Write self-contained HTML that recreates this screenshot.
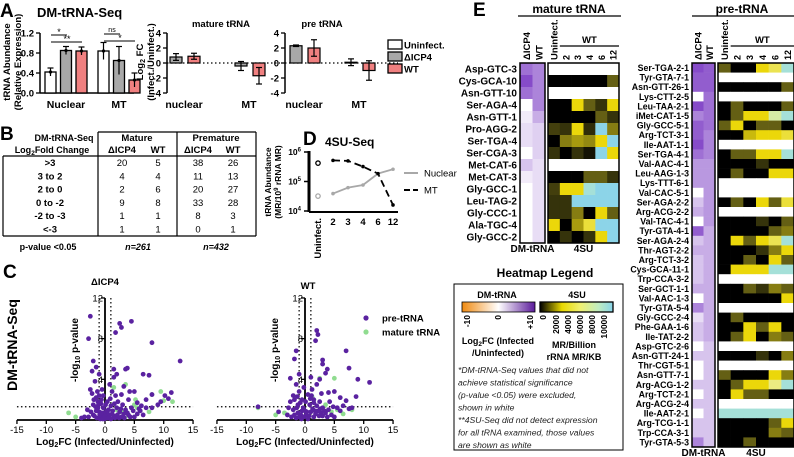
<!DOCTYPE html>
<html><head><meta charset="utf-8"><style>
html,body{margin:0;padding:0;background:#fff;}
svg{display:block;font-family:"Liberation Sans",Arial,sans-serif;}
.b{font-weight:bold;}
</style></head><body>
<svg id="fig" width="794" height="457" viewBox="0 0 794 457" xmlns="http://www.w3.org/2000/svg">
<defs>
<linearGradient id="gDM" x1="0" x2="1"><stop offset="0" stop-color="#f08a10"/><stop offset="0.5" stop-color="#ffffff"/><stop offset="1" stop-color="#5a1a9a"/></linearGradient>
<linearGradient id="g4" x1="0" x2="1"><stop offset="0" stop-color="#000"/><stop offset="0.3" stop-color="#e8d800"/><stop offset="0.55" stop-color="#f0f070"/><stop offset="0.8" stop-color="#c0ecc0"/><stop offset="1" stop-color="#88d4ea"/></linearGradient>
</defs>
<g>
<text x="0" y="17" font-size="19" class="b">A</text>
<text x="37" y="17" font-size="13" class="b">DM-tRNA-Seq</text>
<text transform="translate(10,62) rotate(-90)" text-anchor="middle" font-size="9.5" class="b">tRNA Abundance</text>
<text transform="translate(21,62) rotate(-90)" text-anchor="middle" font-size="9.5" class="b">(Relative Expression)</text>
<text transform="translate(143,62) rotate(-90)" text-anchor="middle" font-size="9.5" class="b">Log<tspan font-size="7" dy="2">2</tspan><tspan dy="-2"> FC</tspan></text>
<text transform="translate(154,62) rotate(-90)" text-anchor="middle" font-size="9.5" class="b">(Infect./Uninfect.)</text>
<text x="221" y="27" text-anchor="middle" font-size="9.5" class="b">mature tRNA</text>
<text x="322" y="27" text-anchor="middle" font-size="9.5" class="b">pre tRNA</text>
<g id="a1"></g>
<g id="a2"></g>
<g id="a3"></g>
<g font-size="9.5" class="b">
<rect x="388" y="40" width="14" height="9" fill="#fff" stroke="#000" stroke-width="1.3"/><text x="404" y="48.5">Uninfect.</text>
<rect x="388" y="52" width="14" height="9" fill="#a8a8a8" stroke="#000" stroke-width="1.3"/><text x="404" y="60.5">ΔICP4</text>
<rect x="388" y="64" width="14" height="9" fill="#f08080" stroke="#000" stroke-width="1.3"/><text x="404" y="72.5">WT</text>
</g>
</g>
<g font-size="9.5">
<text x="0" y="140" font-size="19" class="b">B</text>
<text x="64" y="141" text-anchor="middle" class="b" font-size="9">DM-tRNA-Seq</text>
<text x="52" y="153" text-anchor="middle" class="b" font-size="9">Log<tspan font-size="6.5" dy="2">2</tspan><tspan dy="-2">Fold Change</tspan></text>
<g stroke="#000" stroke-width="1.2" fill="none">
<line x1="98" y1="132" x2="256" y2="132"/>
<line x1="3" y1="156" x2="256" y2="156"/>
<line x1="3" y1="236" x2="256" y2="236"/>
<line x1="3" y1="156" x2="3" y2="236"/>
<line x1="256" y1="132" x2="256" y2="236"/>
<line x1="98" y1="132" x2="98" y2="236"/>
<line x1="177" y1="132" x2="177" y2="236"/>
</g>
<g class="b" text-anchor="middle">
<text x="137" y="141">Mature</text><text x="216" y="141">Premature</text>
<text x="122" y="153">ΔICP4</text><text x="158" y="153">WT</text>
<text x="198" y="153">ΔICP4</text><text x="233" y="153">WT</text>
</g>
<g id="btable"></g>
<text x="48" y="250" text-anchor="middle" class="b" font-size="9">p-value &lt;0.05</text>
<text x="138" y="250" text-anchor="middle" class="b" font-style="italic" font-size="9">n=261</text>
<text x="216" y="250" text-anchor="middle" class="b" font-style="italic" font-size="9">n=432</text>
</g>
<g>
<text x="303" y="145" font-size="19" class="b">D</text>
<text x="325" y="146" font-size="12" class="b">4SU-Seq</text>
<text transform="translate(271,182) rotate(-90)" text-anchor="middle" font-size="8.5" class="b">tRNA Abundance</text>
<text transform="translate(281,182) rotate(-90)" text-anchor="middle" font-size="8.5" class="b">(MR/10<tspan font-size="6" dy="-3">9</tspan><tspan dy="3"> rRNA MR)</tspan></text>
<g id="dplot"></g>
<line x1="404" y1="173" x2="418" y2="173" stroke="#a8a8a8" stroke-width="2"/>
<text x="424" y="176.5" font-size="9.5">Nuclear</text>
<line x1="404" y1="190" x2="418" y2="190" stroke="#000" stroke-width="2" stroke-dasharray="6,3"/>
<text x="424" y="193.5" font-size="9.5">MT</text>
</g>
<g>
<text x="3" y="278" font-size="19" class="b">C</text>
<text transform="translate(17,345) rotate(-90)" text-anchor="middle" font-size="14" class="b">DM-tRNA-Seq</text>
<text x="105" y="285" text-anchor="middle" font-size="9.5" class="b">ΔICP4</text>
<text x="308" y="289" text-anchor="middle" font-size="9.5" class="b">WT</text>
<g id="c1"></g>
<g id="c2"></g>
<circle cx="366" cy="318" r="2.6" fill="#5a22a0"/><text x="382" y="321.5" font-size="9.5" class="b">pre-tRNA</text>
<circle cx="366" cy="332" r="2.6" fill="#90dc90"/><text x="382" y="335.5" font-size="9.5" class="b">mature tRNA</text>
</g>
<g>
<text x="473" y="16" font-size="19" class="b">E</text>
<text x="569" y="13" text-anchor="middle" font-size="12" class="b">mature tRNA</text>
<line x1="518" y1="16" x2="621" y2="16" stroke="#000" stroke-width="1.2"/>
<text x="742" y="13" text-anchor="middle" font-size="12" class="b">pre-tRNA</text>
<line x1="692" y1="16" x2="794" y2="16" stroke="#000" stroke-width="1.2"/>
<g id="hm1"></g>
<g id="hm2"></g>
<text x="545" y="277" text-anchor="middle" font-size="12" class="b">Heatmap Legend</text>
<g>
<rect x="454" y="284" width="169" height="166" fill="none" stroke="#000" stroke-width="1"/>
<text x="497" y="298" text-anchor="middle" font-size="9" class="b">DM-tRNA</text>
<rect x="462" y="302" width="73" height="10" fill="url(#gDM)" stroke="#000" stroke-width="0.8"/>
<text x="577" y="298" text-anchor="middle" font-size="9" class="b">4SU</text>
<rect x="540" y="302" width="73" height="10" fill="url(#g4)" stroke="#000" stroke-width="1.3"/>
<g font-size="8.5" class="b">
<text transform="translate(470,315) rotate(-90)" text-anchor="end">-10</text>
<text transform="translate(501,315) rotate(-90)" text-anchor="end">0</text>
<text transform="translate(533,315) rotate(-90)" text-anchor="end">+10</text>
<text transform="translate(546,315) rotate(-90)" text-anchor="end">0</text>
<text transform="translate(559,315) rotate(-90)" text-anchor="end">2000</text>
<text transform="translate(571,315) rotate(-90)" text-anchor="end">4000</text>
<text transform="translate(583,315) rotate(-90)" text-anchor="end">6000</text>
<text transform="translate(595,315) rotate(-90)" text-anchor="end">8000</text>
<text transform="translate(607,315) rotate(-90)" text-anchor="end">10000</text>
</g>
<text x="498" y="344" text-anchor="middle" font-size="9" class="b">Log<tspan font-size="6.5" dy="2">2</tspan><tspan dy="-2">FC (Infected</tspan></text>
<text x="498" y="356" text-anchor="middle" font-size="9" class="b">/Uninfected)</text>
<text x="574" y="348" text-anchor="middle" font-size="9" class="b">MR/Billion</text>
<text x="574" y="360" text-anchor="middle" font-size="9" class="b">rRNA MR/KB</text>
<g font-size="8.6" font-style="italic" fill="#222">
<text x="458" y="373">*DM-tRNA-Seq values that did not</text>
<text x="458" y="385.5">achieve statistical significance</text>
<text x="458" y="398">(p-value &lt;0.05) were excluded,</text>
<text x="458" y="410.5">shown in white</text>
<text x="458" y="423">**4SU-Seq did not detect expression</text>
<text x="458" y="435.5">for all tRNA examined, those values</text>
<text x="458" y="448">are shown as white</text>
</g>
</g>
</g>
</svg>
<script>
const a1Groups = ['Nuclear','MT'];
const a1Uninf = [0.42, 0.84];
const a1Dicp4 = [0.85, 0.65];
const a1WT = [0.84, 0.26];
const a1UninfErr = [0.08, 0.17];
const a1Dicp4Err = [0.08, 0.28];
const a1WTErr = [0.08, 0.14];
const a1Ticks = ['0.0','0.4','0.8','1.2'];
const a2Groups = ['nuclear','MT'];
const a2Dicp4 = [0.8, -0.4];
const a2WT = [0.9, -1.7];
const a2Dicp4Err = [0.45, 0.6];
const a2WTErr = [0.4, 1.1];
const a3Dicp4 = [2.3, 0.1];
const a3WT = [2.0, -1.0];
const a3Dicp4Err = [0.1, 0.45];
const a3WTErr = [1.1, 1.3];
const fcTicks = ['-4','-2','0','2','4'];
const bRows = ['>3','3 to 2','2 to 0','0 to -2','-2 to -3','<-3'];
const bMatDicp4 = [20,4,2,9,1,1];
const bMatWT = [5,4,6,8,1,1];
const bPreDicp4 = [38,11,20,33,8,0];
const bPreWT = [26,13,27,28,3,1];
const dCats = ['Uninfect.','2','3','4','6','12'];
const dNuclear = [3.2e4, 3.9e4, 6.2e4, 7.6e4, 1.85e5, 2.6e5];
const dMT = [4.2e5, 5.2e5, 5.0e5, 3.2e5, 1.85e5, 1.6e4];
const dTicks = [4,5,6];
const c1Pre = [[-2.5,10.2],[-2.8,8],[2.5,9.5],[2.8,9.1],[4.5,9.7],[1.8,8.6],[8,7.6],[12.8,5.8],[-2,5.8],[-1.5,5.2],[-2.2,4.8],[-1,4.5],[1.5,5],[3.5,5],[3.8,5.1],[6.5,4.5],[7.5,4.4],[2,4.5],[1.5,4.2],[-2.5,3],[3.2,3.3],[2.8,2.5],[4.2,2.8],[5,2.8],[8,2.5],[10.2,2.4],[11.3,2.7],[9.5,1.8],[10.8,2.1],[7,2],[5.5,1.7],[4,2],[-1.7,3.8],[-1,2.4],[-0.5,3],[-1.5,2.2],[0.8,3.5],[1.2,2.8],[2.2,1.8],[3,1.5],[-3,1],[-2,0.5],[-3.5,0.3],[-1,0.8],[-0.3,1.2],[0.5,0.6],[1.5,0.4],[2.5,0.8],[4,0.5],[5.5,0.6],[6,0.9],[7,1.2],[8,1.2],[9,1.5],[-2,1.5],[-1.2,1.8],[0.2,0.2],[1,0.1],[-0.5,0.3],[2,1.2],[3.5,1],[4.5,1.2],[-0.8,0.1],[0.4,1.8],[1.8,2.4],[2.8,0.3],[-1.5,0.9],[5,0.3],[6.5,0.5],[3.2,0.6],[-4,0.2],[-2.8,0.3],[-1.2,1.2],[-0.6,2],[0.6,1],[1.2,0.6],[-2.2,2.6],[1,1.4],[-0.2,0.7],[2.4,0.2],[-1.8,0.4],[-1.4,0.2],[-0.9,0.5],[-0.4,0.1],[0,0.4],[0.3,0.9],[0.7,0.3],[1.3,0.9],[1.7,0.2],[2.1,0.5],[2.7,1.1],[3.3,0.2],[3.8,0.7],[4.3,0.3],[-1.1,1.5],[-0.7,1.6],[-1.6,1.3],[-2.4,0.8],[0.1,1.5],[0.9,2.1],[-1.9,2],[1.6,1.6],[-0.3,2.4],[-1.3,2.8],[4.8,0.9],[6.2,1.4],[5.8,1.1],[-0.1,0.1],[0.5,0.2],[-0.6,0.7]];
const c1Mat = [[-6.2,0.7],[-5,0.3],[3.5,3.5],[5.2,2],[8,2.5],[9.5,2.8],[11.5,1.8],[10,1.9],[5.5,1.2],[7.5,0.8],[4,0.4],[2,1],[1.5,3.2],[5,1.5],[3,0.8]];
const c2Pre = [[2,8.8],[2.2,8.4],[1.8,7.8],[-1.5,6.8],[-1.8,6],[-2.5,4.1],[-1,4.5],[3,5.9],[3,5.5],[7,6.8],[7.5,5.1],[9,4],[11,3.7],[2.5,4],[3.8,5],[3.5,4.6],[1,4.2],[2,3.5],[4,2.7],[5,2.8],[6,2.2],[8.7,2.3],[7,1.9],[6.5,1.4],[5.5,1.2],[-1.5,3.5],[-1,2.8],[-2,2.4],[-0.5,2],[-1.2,1.5],[0.5,2.5],[1.5,2],[2.5,1.8],[3,1.2],[4,1],[-8,1.3],[-4.5,0.8],[-3,0.5],[-2,1],[-1.5,0.2],[0.2,0.5],[1,0.8],[1.5,0.3],[2.2,0.9],[3,0.4],[4.5,0.5],[6,0.9],[7.5,1.1],[-0.3,1.2],[0.8,1.5],[-0.7,0.5],[2,1.4],[-2.5,1.8],[-1.8,2],[3.5,0.7],[5,0.3],[8,1.2],[1.2,3],[-0.2,3.2],[4.2,1.8],[2.8,2.6],[-1,0.3],[0.5,0.1],[1.8,0.6],[-0.5,0.9],[2.6,1.1],[-1.4,1.2],[0.9,2.1],[-1.8,0.5],[-1.2,0.7],[-0.2,0.3],[0.3,0.8],[0.7,0.4],[1.3,1.1],[1.7,0.9],[2.4,0.4],[3.3,0.9],[3.8,0.3],[-2.3,0.3],[-0.8,1.7],[0.1,1.8],[1.1,2.4],[-1.3,2.3],[2.7,0.7],[4.8,1.3],[-0.6,0.1],[0,0.9],[1.5,1.7],[-2.8,1.2]];
const c2Mat = [[-8,1.2],[-5,0.5],[-3.5,0.7],[2.5,4.1],[5,4.1],[1.2,2.3],[3.5,1.5],[5.5,1],[4.5,0.8],[8,1],[6.5,0.6],[3,0.6]];
const cXTicks = [-15,-10,-5,0,5,10,15];
const cYTicks = [4,8,12];
const mNames = ['Asp-GTC-3','Cys-GCA-10','Asn-GTT-10','Ser-AGA-4','Asn-GTT-1','Pro-AGG-2','Ser-TGA-4','Ser-CGA-3','Met-CAT-6','Met-CAT-3','Gly-GCC-1','Leu-TAG-2','Gly-CCC-1','Ala-TGC-4','Gly-GCC-2'];
const mDicp4 = [6,8,6,null,0.5,1,1,null,2,0.5,null,null,null,null,null];
const mWT = [5,5,5,5,3,1.5,1.5,1.5,1,1,1,1,1,1,1];
const m4SU = [null,[0,0,0,0,0,1500],null,[0,0,3500,1500,800,3500],[0,0,0,0,1500,800],[1000,800,3500,700,10000,2000],[0,2000,2500,2200,3500,10000],[800,0,800,300,10000,3500],null,[0,0,0,1500,1500,800],[1000,3500,3500,9000,10000,10000],[800,800,10000,10000,10000,10000],[800,800,2000,0,3500,1500],[3500,0,2500,4500,10000,10000],[0,800,0,800,3500,10000]];
const pNames = ['Ser-TGA-2-1','Tyr-GTA-7-1','Asn-GTT-26-1','Lys-CTT-2-5','Leu-TAA-2-1','iMet-CAT-1-5','Gly-GCC-5-1','Arg-TCT-3-1','Ile-AAT-1-1','Ser-TGA-4-1','Val-AAC-4-1','Leu-AAG-1-3','Lys-TTT-6-1','Val-CAC-5-1','Ser-AGA-2-2','Arg-ACG-2-2','Val-TAC-4-1','Tyr-GTA-4-1','Ser-AGA-2-4','Thr-AGT-2-2','Arg-TCT-3-2','Cys-GCA-11-1','Trp-CCA-3-2','Ser-GCT-1-1','Val-AAC-1-3','Tyr-GTA-5-4','Gly-GCC-2-4','Phe-GAA-1-6','Ile-TAT-2-2','Asp-GTC-2-6','Asn-GTT-24-1','Thr-CGT-5-1','Asn-GTT-7-1','Arg-ACG-1-2','Arg-TCT-2-1','Arg-ACG-2-4','Ile-AAT-2-1','Arg-TCG-1-1','Trp-CCA-3-1','Tyr-GTA-5-3'];
const pDicp4 = [8,7,7,null,8,5,7,7,8,6,4,4,4,null,2,3,null,7,2,3,2,2,2,3,null,5,1,2,2,null,2,null,null,2,null,2,null,2,2,5];
const pWT = [7,7,7,6,6,6,6,5,5,5,4,4,4,4,4,4,4,3,3,3,3,3,3,3,3,3,3,3,3,2,2,2,2,2,2,2,2,2,2,2];
const p4SU = [[1500,0,0,3500,5000,9000],null,[0,0,0,0,0,1500],null,[0,1500,0,0,0,1500],[0,1500,3500,3500,7000,9000],[1500,3500,0,1500,1500,0],[0,0,3000,3500,3500,4500],null,[0,1500,1500,3500,3500,9000],[0,0,0,800,0,0],[0,1500,0,0,3500,3500],null,null,[0,1500,0,3500,1500,4500],null,[0,0,0,800,0,1500],[0,0,0,0,1500,2000],[0,3500,1500,3500,5000,9000],[0,0,0,800,2000,3500],[0,0,1500,0,3500,1500],[0,3500,3500,3500,9000,9000],null,[0,0,1500,800,2000,1500],[0,0,0,0,0,3500],null,[0,1500,0,0,0,0],[0,0,3500,1500,3500,0],[0,1500,3500,0,2000,1500],null,[0,0,0,800,0,2000],null,[1500,0,0,0,3500,2000],[0,1500,3500,3500,6000,9000],[0,3500,1500,1500,0,0],null,[9000,9000,9000,9000,9000,9000],[0,0,0,0,1500,3500],[0,0,0,0,2000,1500],[0,0,1500,0,0,0]];
const hmCols = ['Uninfect.','2','3','4','6','12'];

const NS='http://www.w3.org/2000/svg';
function mk(parent, tag, attrs, txt){const e=document.createElementNS(NS,tag);for(const k in attrs)e.setAttribute(k,attrs[k]);if(txt!==undefined)e.textContent=txt;parent.appendChild(e);return e;}

(function(){
  const g=document.getElementById('a1');
  const y=v=>93-v/1.2*60;
  mk(g,'line',{x1:40,y1:33,x2:40,y2:93,stroke:'#000','stroke-width':1.5});
  mk(g,'line',{x1:40,y1:93,x2:134,y2:93,stroke:'#000','stroke-width':1.5});
  a1Ticks.forEach(t=>{const yy=y(+t);mk(g,'line',{x1:36,y1:yy,x2:40,y2:yy,stroke:'#000','stroke-width':1.3});mk(g,'text',{x:34,y:yy+3.5,'text-anchor':'end','font-size':9.5,'font-weight':'bold'},t);});
  const series=[[a1Uninf,a1UninfErr,'#fff'],[a1Dicp4,a1Dicp4Err,'#a8a8a8'],[a1WT,a1WTErr,'#f08080']];
  a1Groups.forEach((gn,gi)=>{
    const x0=45+gi*53;
    series.forEach((s,si)=>{
      const x=x0+si*15.5, v=s[0][gi], e=s[1][gi];
      const r=mk(g,'rect',{x:x,y:y(v),width:11,height:93-y(v),fill:s[2],stroke:'#000','stroke-width':1.3});
      
      
      const cx=x+5.5;
      mk(g,'line',{x1:cx,y1:y(v+e),x2:cx,y2:y(Math.max(0,v-e)),stroke:'#000','stroke-width':1.2});
      mk(g,'line',{x1:cx-3,y1:y(v+e),x2:cx+3,y2:y(v+e),stroke:'#000','stroke-width':1.2});
      mk(g,'circle',{cx:cx,cy:y(v),r:1.6,fill:'#000'});
    });
    mk(g,'text',{x:x0+21,y:108,'text-anchor':'middle','font-size':10.5,'font-weight':'bold'},gn);
  });
  mk(g,'line',{x1:51,y1:35,x2:67,y2:35,stroke:'#000','stroke-width':1});
  mk(g,'text',{x:59,y:35,'text-anchor':'middle','font-size':9},'*');
  mk(g,'line',{x1:51,y1:42,x2:82,y2:42,stroke:'#000','stroke-width':1});
  mk(g,'text',{x:67,y:42,'text-anchor':'middle','font-size':9},'**');
  mk(g,'line',{x1:104,y1:34,x2:120,y2:34,stroke:'#000','stroke-width':1});
  mk(g,'text',{x:112,y:32,'text-anchor':'middle','font-size':7},'ns');
  mk(g,'line',{x1:104,y1:41,x2:135,y2:41,stroke:'#000','stroke-width':1});
  mk(g,'text',{x:120,y:41,'text-anchor':'middle','font-size':9},'*');

  function fc(id, ax, centers, d, w, de, we){
    const g=document.getElementById(id);
    const y=v=>63-v*7.5;
    mk(g,'line',{x1:ax,y1:33,x2:ax,y2:93,stroke:'#000','stroke-width':1.5});
    mk(g,'line',{x1:ax,y1:63,x2:ax+113,y2:63,stroke:'#000','stroke-width':1.2,'stroke-dasharray':'1.5,2.5'});
    fcTicks.forEach(t=>{const yy=y(+t);mk(g,'line',{x1:ax-4,y1:yy,x2:ax,y2:yy,stroke:'#000','stroke-width':1.3});mk(g,'text',{x:ax-6,y:yy+3.5,'text-anchor':'end','font-size':9.5,'font-weight':'bold'},t);});
    a2Groups.forEach((gn,gi)=>{
      const c=centers[gi];
      [[d,de,'#a8a8a8',-15],[w,we,'#f08080',3]].forEach((s,si)=>{
        const v=s[0][gi], e=s[1][gi], x=c+s[3];
        const top=Math.min(y(v),63), h=Math.abs(y(v)-63);
        const r=mk(g,'rect',{x:x,y:top,width:12,height:Math.max(h,0.5),fill:s[2],stroke:'#000','stroke-width':1.2});
        
        
        const cx=x+6;
        mk(g,'line',{x1:cx,y1:y(v+e),x2:cx,y2:y(v-e),stroke:'#000','stroke-width':1.2});
        mk(g,'line',{x1:cx-3,y1:y(v+e),x2:cx+3,y2:y(v+e),stroke:'#000','stroke-width':1.2});
        mk(g,'line',{x1:cx-3,y1:y(v-e),x2:cx+3,y2:y(v-e),stroke:'#000','stroke-width':1.2});
      });
      mk(g,'text',{x:c-1,y:108,'text-anchor':'middle','font-size':10.5,'font-weight':'bold'},gn);
    });
  }
  fc('a2',167,[185,250],a2Dicp4,a2WT,a2Dicp4Err,a2WTErr);
  fc('a3',285,[305,360],a3Dicp4,a3WT,a3Dicp4Err,a3WTErr);
})();

(function(){
  const g=document.getElementById('btable');
  bRows.forEach((r,i)=>{
    const yy=166+i*13.3;
    mk(g,'text',{x:50,y:yy,'text-anchor':'middle','font-size':9.5,'font-weight':'bold'},r);
    [[bMatDicp4,122],[bMatWT,158],[bPreDicp4,198],[bPreWT,233]].forEach(c=>mk(g,'text',{x:c[1],y:yy,'text-anchor':'middle','font-size':9.5},String(c[0][i])));
  });
})();

(function(){
  const g=document.getElementById('dplot');
  const x=i=>318+i*15, y=v=>211-(Math.log10(v)-4)*29.5;
  mk(g,'line',{x1:309,y1:151,x2:309,y2:212,stroke:'#000','stroke-width':3});
  mk(g,'line',{x1:309,y1:212,x2:398,y2:212,stroke:'#000','stroke-width':2});
  dTicks.forEach(t=>{const yy=211-(t-4)*29.5;mk(g,'line',{x1:304,y1:yy,x2:309,y2:yy,stroke:'#000','stroke-width':1.5});
    const tx=mk(g,'text',{x:301,y:yy+3,'text-anchor':'end','font-size':8.5,'font-weight':'bold'},'10');mk(tx,'tspan',{dy:-3.5,'font-size':6},String(t));});
  dCats.forEach((c,i)=>{
    if(i===0) mk(g,'text',{transform:'translate('+(x(i)+3)+',218) rotate(-90)','text-anchor':'end','font-size':9.5,'font-weight':'bold'},c);
    else mk(g,'text',{x:x(i),y:225,'text-anchor':'middle','font-size':9.5,'font-weight':'bold'},c);
  });
  let p1='',p2='';
  for(let i=1;i<dCats.length;i++){p1+=(i===1?'M':'L')+x(i)+','+y(dNuclear[i]);p2+=(i===1?'M':'L')+x(i)+','+y(dMT[i]);}
  const l1=mk(g,'path',{d:p1,fill:'none',stroke:'#a8a8a8','stroke-width':1.8});
  
  
  const l2=mk(g,'path',{d:p2,fill:'none',stroke:'#000','stroke-width':1.8,'stroke-dasharray':'7,4'});
  
  
  for(let i=1;i<dCats.length;i++){mk(g,'circle',{cx:x(i),cy:y(dNuclear[i]),r:1.8,fill:'#a8a8a8'});mk(g,'circle',{cx:x(i),cy:y(dMT[i]),r:1.8,fill:'#000'});}
  mk(g,'circle',{cx:x(0),cy:y(dNuclear[0]),r:2.2,fill:'#fff',stroke:'#a8a8a8','stroke-width':1.3});
  mk(g,'circle',{cx:x(0),cy:y(dMT[0]),r:2.2,fill:'#fff',stroke:'#000','stroke-width':1.3});
})();

function volcano(id, zx, pre, mat){
  const g=document.getElementById(id);
  const x=v=>zx+v*5.87, y=v=>420-v*10.17;
  mk(g,'line',{x1:x(-15),y1:420,x2:x(15),y2:420,stroke:'#000','stroke-width':1.8});
  mk(g,'line',{x1:zx,y1:y(12),x2:zx,y2:420,stroke:'#000','stroke-width':1.8});
  cXTicks.forEach(t=>{mk(g,'line',{x1:x(t),y1:420,x2:x(t),y2:424,stroke:'#000','stroke-width':1.3});mk(g,'text',{x:x(t),y:433,'text-anchor':'middle','font-size':9.5},String(t));});
  cYTicks.forEach(t=>{mk(g,'line',{x1:zx-4,y1:y(t),x2:zx,y2:y(t),stroke:'#000','stroke-width':1.3});mk(g,'text',{x:zx-2,y:y(t)+3.5,'text-anchor':'end','font-size':9.5},String(t));});
  mk(g,'line',{x1:x(-15),y1:y(1.3),x2:x(15),y2:y(1.3),stroke:'#000','stroke-width':1.2,'stroke-dasharray':'1.5,2.5'});
  [-1,1].forEach(v=>mk(g,'line',{x1:x(v),y1:y(12),x2:x(v),y2:420,stroke:'#000','stroke-width':1.2,'stroke-dasharray':'1.5,2.5'}));
  mat.forEach(p=>{const c=mk(g,'circle',{cx:x(p[0]),cy:y(p[1]),r:2.4,fill:'#90dc90'});});
  pre.forEach(p=>{const c=mk(g,'circle',{cx:x(p[0]),cy:y(p[1]),r:2.4,fill:'#5a22a0'});});
  const lab=mk(g,'text',{x:zx,y:445,'text-anchor':'middle','font-size':10,'font-weight':'bold'},'Log');
  mk(lab,'tspan',{'font-size':7,dy:2},'2');mk(lab,'tspan',{dy:-2},'FC (Infected/Uninfected)');
  const yl=mk(g,'text',{transform:'translate('+(zx-27)+',350) rotate(-90)','text-anchor':'middle','font-size':10,'font-weight':'bold'},'-log');
  mk(yl,'tspan',{'font-size':7,dy:2},'10');mk(yl,'tspan',{dy:-2},' p-value');
}
volcano('c1',105,c1Pre,c1Mat);
volcano('c2',305,c2Pre,c2Mat);

function purple(v){
  if(v===null) return '#ffffff';
  const t=Math.min(1,v/10);
  const a=[255,255,255], b=[110,40,190];
  return 'rgb('+a.map((c,i)=>Math.round(c+(b[i]-c)*Math.pow(t,0.8))).join(',')+')';
}
const stops=[[0,[0,0,0]],[1500,[100,95,20]],[3500,[235,215,10]],[6000,[235,235,130]],[8000,[190,235,200]],[10000,[140,212,232]]];
function sucol(v){
  if(v===null||v===undefined) return '#ffffff';
  for(let i=1;i<stops.length;i++){if(v<=stops[i][0]){const a=stops[i-1],b=stops[i],t=(v-a[0])/(b[0]-a[0]);return 'rgb('+a[1].map((c,j)=>Math.round(c+(b[1][j]-c)*t)).join(',')+')';}}
  return 'rgb(140,212,232)';
}
function heatmap(id, names, d1, d2, su, labX, dmX, dmW, suX, suW, top, rh, fs, cap){
  const g=document.getElementById(id);
  const n=names.length, cw=dmW/2, sw=suW/6;
  names.forEach((nm,i)=>{
    const yy=top+i*rh;
    mk(g,'text',{x:labX,y:yy+rh*0.5+fs*0.36,'text-anchor':'end','font-size':fs,'font-weight':'bold'},nm);
    [d1,d2].forEach((arr,j)=>{const r=mk(g,'rect',{x:dmX+j*cw,y:yy,width:cw+0.3,height:rh+0.3,fill:purple(arr[i])});});
    hmCols.forEach((c,j)=>{const v=su[i]?su[i][j]:null;const r=mk(g,'rect',{x:suX+j*sw,y:yy,width:sw+0.3,height:rh+0.3,fill:sucol(v)});});
  });
  const H=n*rh;
  mk(g,'rect',{x:dmX,y:top,width:dmW,height:H,fill:'none',stroke:'#000','stroke-width':1.5});
  mk(g,'rect',{x:suX,y:top,width:suW,height:H,fill:'none',stroke:'#000','stroke-width':1.5});
  mk(g,'text',{transform:'translate('+(dmX+cw*0.5+3.5)+','+(top-3)+') rotate(-90)','font-size':9.5,'font-weight':'bold'},'ΔICP4');
  mk(g,'text',{transform:'translate('+(dmX+cw*1.5+3.5)+','+(top-3)+') rotate(-90)','font-size':9.5,'font-weight':'bold'},'WT');
  mk(g,'text',{transform:'translate('+(suX+sw*0.5+3.5)+','+(top-3)+') rotate(-90)','font-size':9.5,'font-weight':'bold'},'Uninfect.');
  mk(g,'text',{x:suX+sw*3.5,y:top-20,'text-anchor':'middle','font-size':9.5,'font-weight':'bold'},'WT');
  mk(g,'line',{x1:suX+sw,y1:top-17,x2:suX+suW,y2:top-17,stroke:'#000','stroke-width':1.2});
  hmCols.forEach((c,j)=>{if(j>0) mk(g,'text',{transform:'translate('+(suX+sw*(j+0.5)+3.5)+','+(top-3)+') rotate(-90)','font-size':9,'font-weight':'bold'},c);});
  mk(g,'text',{x:dmX+dmW/2,y:cap,'text-anchor':'middle','font-size':10,'font-weight':'bold'},'DM-tRNA');
  mk(g,'text',{x:suX+suW/2,y:cap,'text-anchor':'middle','font-size':10,'font-weight':'bold'},'4SU');
}
heatmap('hm1',mNames,mDicp4,mWT,m4SU,517,520,25,548,71,63,12,10,252);
heatmap('hm2',pNames,pDicp4,pWT,p4SU,689,692,23,718,76,63,9.6,8.8,456);
</script>
</body></html>
